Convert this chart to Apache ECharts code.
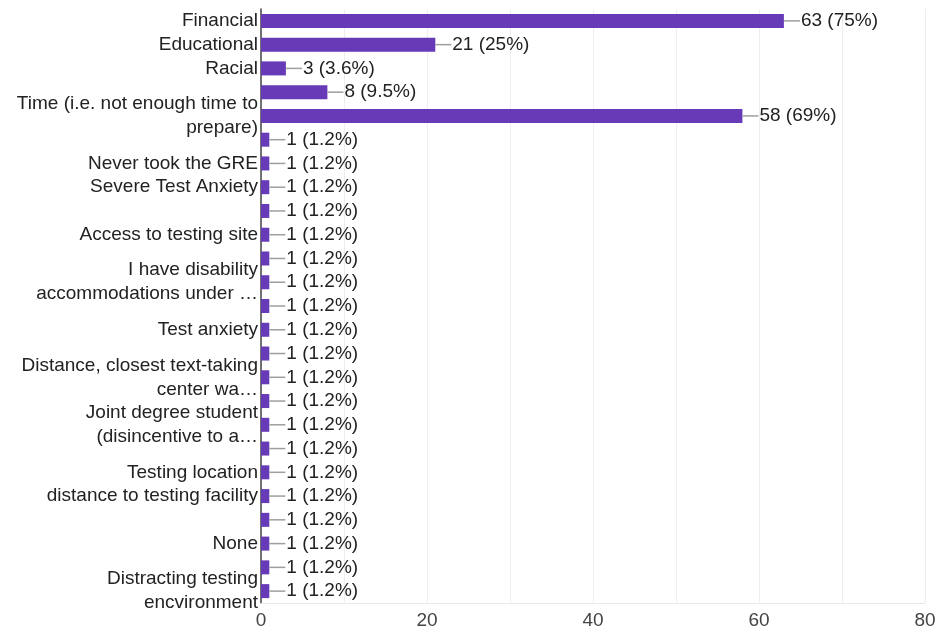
<!DOCTYPE html>
<html>
<head>
<meta charset="utf-8">
<script src="https://cdn.jsdelivr.net/npm/echarts@6/dist/echarts.min.js"></script>
<style>
  html, body { margin: 0; padding: 0; background: #fff; }
  #chart { width: 940px; height: 635px; }
</style>
</head>
<body>
<div id="chart"></div>
<script>
// category labels as shown (blank where the chart hides them)
const categories = [
    'Financial', 'Educational', 'Racial', '', 'Time (i.e. not enough time to\nprepare)',
    '', 'Never took the GRE', 'Severe Test Anxiety', '', 'Access to testing site',
    '', 'I have disability\naccommodations under …', '', 'Test anxiety', '',
    'Distance, closest text-taking\ncenter wa…', '', 'Joint degree student\n(disincentive to a…', '', 'Testing location',
    'distance to testing facility', '', 'None', '', 'Distracting testing\nencvironment'
];
const counts = [63, 21, 3, 8, 58, 1, 1, 1, 1, 1, 1, 1, 1, 1, 1, 1, 1, 1, 1, 1, 1, 1, 1, 1, 1];
const percents = ['75%', '25%', '3.6%', '9.5%', '69%', '1.2%', '1.2%', '1.2%', '1.2%', '1.2%',
    '1.2%', '1.2%', '1.2%', '1.2%', '1.2%', '1.2%', '1.2%', '1.2%', '1.2%', '1.2%',
    '1.2%', '1.2%', '1.2%', '1.2%', '1.2%'];
const xTicks = [0, 20, 40, 60, 80];

const chart = echarts.init(document.getElementById('chart'));

chart.setOption({
    animation: false,
    textStyle: { fontFamily: 'Liberation Sans, Arial, sans-serif' },
    grid: { left: 261, right: 15, top: 9, bottom: 32, containLabel: false },
    xAxis: {
        type: 'value',
        min: 0,
        max: 80,
        interval: 10,
        axisLine: { show: true, lineStyle: { color: '#e8e8e8', width: 1 } },
        axisTick: { show: false },
        splitLine: { show: true, lineStyle: { color: '#eeeeee', width: 1 } },
        axisLabel: {
            color: '#444',
            fontSize: 19,
            margin: 8,
            formatter: v => xTicks.indexOf(v) >= 0 ? String(v) : ''
        }
    },
    yAxis: {
        type: 'category',
        inverse: true,
        data: categories.map((c, i) => 'c' + i),
        axisLine: { show: true, lineStyle: { color: '#444', width: 1.5 } },
        axisTick: { show: false },
        splitLine: { show: false },
        axisLabel: {
            color: '#222',
            fontSize: 19,
            lineHeight: 24,
            margin: 3,
            interval: 0,
            formatter: (v, i) => categories[i]
        }
    },
    series: [{
        type: 'bar',
        data: counts,
        barWidth: 14,
        itemStyle: { color: '#673ab7' },
        label: {
            show: true,
            position: 'right',
            distance: 0,
            formatter: p => '{l|}{v|' + p.value + ' (' + percents[p.dataIndex] + ')}',
            rich: {
                l: { width: 16, height: 1.5, backgroundColor: '#9e9e9e' },
                v: { color: '#222', fontSize: 19, padding: [0, 0, 0, 1] }
            }
        }
    }]
});
</script>
</body>
</html>
